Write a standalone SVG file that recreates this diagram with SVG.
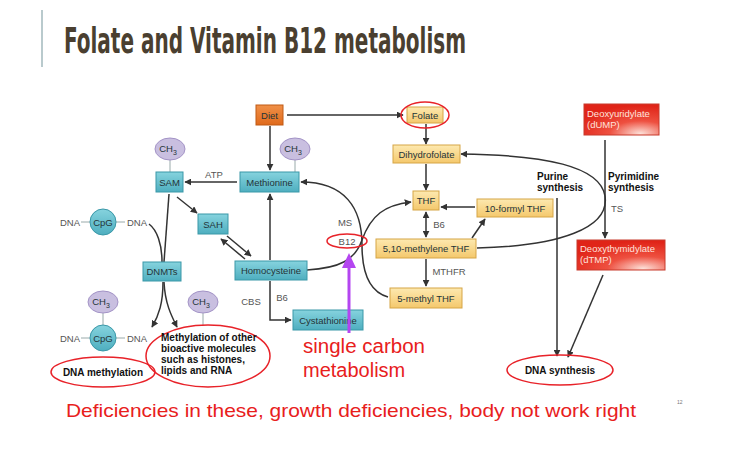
<svg xmlns="http://www.w3.org/2000/svg" width="733" height="455" viewBox="0 0 733 455">
<defs>
<linearGradient id="gTeal" x1="0" y1="0" x2="0" y2="1"><stop offset="0" stop-color="#86d3de"/><stop offset="1" stop-color="#4eaebf"/></linearGradient>
<linearGradient id="gYel" x1="0" y1="0" x2="0" y2="1"><stop offset="0" stop-color="#fde9b0"/><stop offset="1" stop-color="#f4c86c"/></linearGradient>
<linearGradient id="gOr" x1="0" y1="0" x2="0" y2="1"><stop offset="0" stop-color="#f09048"/><stop offset="1" stop-color="#e06a1c"/></linearGradient>
<radialGradient id="gRed" cx="0.75" cy="0.95" r="0.9"><stop offset="0" stop-color="#fde0d8"/><stop offset="0.45" stop-color="#ee5040"/><stop offset="1" stop-color="#e02418"/></radialGradient>
<marker id="ah" viewBox="0 0 10 10" refX="9" refY="5" markerWidth="7" markerHeight="7" markerUnits="userSpaceOnUse" orient="auto-start-reverse"><path d="M0,0 L10,5 L0,10 z" fill="#333"/></marker>
<style>
.teal{fill:url(#gTeal);stroke:#3a98a8;stroke-width:1}
.yel{fill:url(#gYel);stroke:#d6a546;stroke-width:1}
.red{fill:url(#gRed);stroke:#c83a2c;stroke-width:1}
.ch3{fill:#c9bfe0;stroke:#a393c6;stroke-width:1}
.t{font-family:"Liberation Sans",Arial,sans-serif;font-size:9.5px;fill:#243438;text-anchor:middle}
.tl{font-family:"Liberation Sans",Arial,sans-serif;font-size:9.5px;fill:#ffe2dc}
.lab{font-family:"Liberation Sans",Arial,sans-serif;font-size:9.5px;fill:#555;text-anchor:middle}
.b{font-family:"Liberation Sans",Arial,sans-serif;font-size:10px;font-weight:bold;fill:#111}
.ln{fill:none;stroke:#333;stroke-width:1.5}
.thin{fill:none;stroke:#9aa;stroke-width:1}
.oval{fill:none;stroke:#e82229;stroke-width:1.5}
.redtxt{font-family:"Liberation Sans",Arial,sans-serif;fill:#e8201c}
</style>
</defs>
<rect width="733" height="455" fill="#fff"/>
<line x1="42" y1="10" x2="42" y2="67" stroke="#b9cacd" stroke-width="2"/>
<text x="64" y="53" font-family="DejaVu Sans Condensed, Liberation Sans Narrow, sans-serif" font-size="36" font-weight="bold" fill="#4a3f30" textLength="402" lengthAdjust="spacingAndGlyphs">Folate and Vitamin B12 metabolism</text>

<g id="connectors">
<line class="ln" x1="287" y1="115" x2="403" y2="115" marker-end="url(#ah)"/>
<line class="ln" x1="270" y1="126" x2="270" y2="170" marker-end="url(#ah)"/>
<line class="ln" x1="237" y1="182" x2="185" y2="182" marker-end="url(#ah)"/>
<line class="ln" x1="177" y1="197" x2="197" y2="213" marker-end="url(#ah)"/>
<line class="ln" x1="245" y1="259" x2="221" y2="239" marker-end="url(#ah)"/>
<line class="ln" x1="227" y1="236" x2="251" y2="256" marker-end="url(#ah)"/>
<line class="ln" x1="270" y1="260" x2="270" y2="194" marker-end="url(#ah)"/>
<path class="ln" d="M270,281 L270,320 L291,320" marker-end="url(#ah)"/>
<line class="ln" x1="169" y1="194" x2="164" y2="262"/>
<path class="ln" d="M149,224 C157,230 162,244 162,262"/>
<path class="ln" d="M163,282 C163,303 159,315 152,327" marker-end="url(#ah)"/>
<path class="ln" d="M164,282 C165,303 171,315 177,327" marker-end="url(#ah)"/>
<line class="ln" x1="426" y1="124" x2="426" y2="144" marker-end="url(#ah)"/>
<line class="ln" x1="426" y1="164" x2="426" y2="190" marker-end="url(#ah)"/>
<line class="ln" x1="475" y1="207" x2="441" y2="207" marker-end="url(#ah)"/>
<line class="ln" x1="426" y1="212" x2="426" y2="237" marker-start="url(#ah)" marker-end="url(#ah)"/>
<line class="ln" x1="472" y1="238" x2="485" y2="219" marker-end="url(#ah)"/>
<line class="ln" x1="426" y1="259" x2="426" y2="286" marker-end="url(#ah)"/>
<path class="ln" d="M388,297 C370,292 362,275 362,245 C362,208 345,182 301,182" marker-end="url(#ah)"/>
<path class="ln" d="M307,270 C340,268 355,260 362,240 C371,215 385,205 411,202" marker-end="url(#ah)"/>
<path class="ln" d="M477,248 C560,246 610,228 605,196 C600,166 545,155 461,154" marker-end="url(#ah)"/>
<line class="ln" x1="605" y1="140" x2="605" y2="238" marker-end="url(#ah)"/>
<line class="ln" x1="557" y1="198" x2="557" y2="356" marker-end="url(#ah)"/>
<line class="ln" x1="603" y1="275" x2="568" y2="357" marker-end="url(#ah)"/>
</g>

<g id="labels">
<text class="lab" x="214" y="178">ATP</text>
<text class="lab" x="345" y="226">MS</text>
<text class="lab" x="439" y="228">B6</text>
<text class="lab" x="449" y="275">MTHFR</text>
<text class="lab" x="251" y="305">CBS</text>
<text class="lab" x="282" y="301">B6</text>
<text class="lab" x="617" y="212">TS</text>
<text class="b" x="537" y="180" font-size="9">Purine</text>
<text class="b" x="537" y="191" font-size="9">synthesis</text>
<text class="b" x="608" y="180" font-size="9">Pyrimidine</text>
<text class="b" x="608" y="191" font-size="9">synthesis</text>
</g>

<g id="diet"><rect x="256" y="105" width="27" height="20" fill="url(#gOr)" stroke="#c05a14"/><text class="t" x="269.5" y="118.5">Diet</text></g>
<g id="folate"><rect class="yel" x="407" y="107" width="36" height="16"/><text class="t" x="425" y="118.5">Folate</text></g>
<g id="dihydrofolate"><rect class="yel" x="393" y="145" width="67" height="18"/><text class="t" x="426.5" y="157.5">Dihydrofolate</text></g>
<g id="thf"><rect class="yel" x="413" y="191" width="26" height="19"/><text class="t" x="426" y="204">THF</text></g>
<g id="formylthf"><rect class="yel" x="477" y="199" width="76" height="18"/><text class="t" x="515" y="211.5">10-formyl THF</text></g>
<g id="methylenethf"><rect class="yel" x="376" y="239" width="100" height="19"/><text class="t" x="426" y="252">5,10-methylene THF</text></g>
<g id="methylthf"><rect class="yel" x="390" y="288" width="72" height="20"/><text class="t" x="426" y="301.5">5-methyl THF</text></g>
<g id="dump"><rect class="red" x="584" y="104" width="75" height="31"/><text class="tl" x="587" y="117">Deoxyuridylate</text><text class="tl" x="587" y="128">(dUMP)</text></g>
<g id="dtmp"><rect class="red" x="577" y="240" width="88" height="30"/><text class="tl" x="580" y="252">Deoxythymidylate</text><text class="tl" x="580" y="263">(dTMP)</text></g>
<g id="sam"><line class="thin" x1="170" y1="160" x2="170" y2="172"/><ellipse class="ch3" cx="170" cy="149" rx="15" ry="11"/><text class="t" x="168" y="152">CH<tspan font-size="7" dy="3">3</tspan></text><rect class="teal" x="156" y="172" width="27" height="20"/><text class="t" x="169.5" y="185.5">SAM</text></g>
<g id="methionine"><line class="thin" x1="295" y1="160" x2="295" y2="172"/><ellipse class="ch3" cx="295" cy="149" rx="15" ry="11"/><text class="t" x="293" y="152">CH<tspan font-size="7" dy="3">3</tspan></text><rect class="teal" x="240" y="172" width="59" height="20"/><text class="t" x="269.5" y="185.5">Methionine</text></g>
<g id="sah"><rect class="teal" x="198" y="214" width="30" height="20"/><text class="t" x="213" y="227.5">SAH</text></g>
<g id="homocysteine"><rect class="teal" x="235" y="261" width="72" height="19"/><text class="t" x="271" y="274">Homocysteine</text></g>
<g id="dnmts"><rect class="teal" x="143" y="262" width="38" height="19"/><text class="t" x="162" y="275">DNMTs</text></g>
<g id="cystathionine"><rect class="teal" x="293" y="310" width="70" height="20"/><text class="t" x="328" y="323.5">Cystathionine</text></g>
<g id="dnacpg1"><line class="thin" x1="81" y1="222" x2="90" y2="222"/><line class="thin" x1="116" y1="222" x2="125" y2="222"/><text class="lab" x="70" y="225.5">DNA</text><circle class="teal" cx="103" cy="222" r="13"/><text class="t" x="103" y="225.5">CpG</text><text class="lab" x="137" y="225.5">DNA</text></g>
<g id="dnacpg2"><line class="thin" x1="103" y1="313" x2="103" y2="325"/><ellipse class="ch3" cx="103" cy="302" rx="15" ry="11"/><text class="t" x="101" y="305">CH<tspan font-size="7" dy="3">3</tspan></text><line class="thin" x1="81" y1="338" x2="90" y2="338"/><line class="thin" x1="116" y1="338" x2="125" y2="338"/><text class="lab" x="70" y="341.5">DNA</text><circle class="teal" cx="103" cy="338" r="13"/><text class="t" x="103" y="341.5">CpG</text><text class="lab" x="137" y="341.5">DNA</text></g>
<g id="ch3other"><line class="thin" x1="203" y1="313" x2="203" y2="326"/><ellipse class="ch3" cx="203" cy="302" rx="15" ry="11"/><text class="t" x="201" y="305">CH<tspan font-size="7" dy="3">3</tspan></text></g>
<g id="dnamethylation"><ellipse class="oval" cx="103" cy="372" rx="52" ry="15"/><text class="b" x="103" y="376" text-anchor="middle">DNA methylation</text></g>
<g id="othermethylation"><ellipse class="oval" cx="208" cy="356" rx="62" ry="31"/><text class="b" x="161" y="341">Methylation of other</text><text class="b" x="161" y="352">bioactive molecules</text><text class="b" x="161" y="363">such as histones,</text><text class="b" x="161" y="374">lipids and RNA</text></g>
<g id="dnasynthesis"><ellipse class="oval" cx="560" cy="370" rx="53" ry="15"/><text class="b" x="560" y="374" text-anchor="middle">DNA synthesis</text></g>
<g id="b12"><text class="lab" x="347" y="244.5">B12</text><ellipse class="oval" cx="347" cy="241" rx="20" ry="7"/></g>
<ellipse class="oval" cx="425" cy="115" rx="24" ry="13"/>

<g id="annotation">
<line x1="349" y1="333" x2="349" y2="266" stroke="#b446f0" stroke-width="3"/>
<polygon points="349,253 342,268 356,268" fill="#b446f0"/>
<text class="redtxt" x="303" y="353" font-size="20" textLength="122" lengthAdjust="spacingAndGlyphs">single carbon</text>
<text class="redtxt" x="303" y="377" font-size="20">metabolism</text>
<text class="redtxt" x="66" y="417" font-size="19" textLength="570" lengthAdjust="spacingAndGlyphs">Deficiencies in these, growth deficiencies, body not work right</text>
<text x="677" y="404" font-family="Liberation Sans, sans-serif" font-size="5" fill="#777">12</text>
</g>
</svg>
